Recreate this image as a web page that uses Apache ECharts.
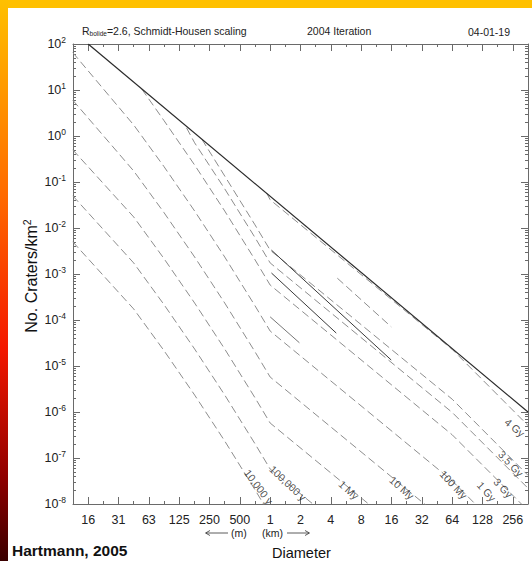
<!DOCTYPE html>
<html><head><meta charset="utf-8">
<script src="https://cdn.jsdelivr.net/npm/echarts@6/dist/echarts.min.js"></script>
<style>html,body{margin:0;padding:0;background:#fff}#c{width:532px;height:561px}</style>
</head><body><div id="c"></div>
<script>
// ---- axes ----
const xMinKm = 0.01105, xMaxKm = 362;
const xTickKm = [0.015625,0.03125,0.0625,0.125,0.25,0.5,1,2,4,8,16,32,64,128,256];
const xTickLabels = ['16','31','63','125','250','500','1','2','4','8','16','32','64','128','256'];
const xMinorKm = [0.0221,0.0442,0.0884,0.177,0.354,0.707,1.414,2.83,5.66,11.3,22.6,45.3,90.5,181];
const yMin = 1e-8, yMax = 1e2;
const yTickVals = [1e-8,1e-7,1e-6,1e-5,1e-4,1e-3,1e-2,1e-1,1,10,100];
const yMinorVals = [];
[1e-8,1e-7,1e-6,1e-5,1e-4,1e-3,1e-2,1e-1,1,10].forEach(function(b){[2,3,4,5,6,7,8,9].forEach(function(m){yMinorVals.push(b*m);});});

// ---- data: [diameter km, craters per km^2] ----
const saturation = [[0.015625,100],[362,1e-6]];
const iso10ky  = [[0.011,5e-3],[0.0442,1.74e-4],[0.088,2.19e-5],[0.178,2.34e-6],[0.354,2.34e-7],[0.707,2.04e-8],[1.0,5.75e-9]];
const iso100ky = [[0.011,5e-2],[0.0442,1.74e-3],[0.088,2.19e-4],[0.178,2.34e-5],[0.354,2.34e-6],[0.707,2.04e-7],[1.0,5.75e-8],[4,4.8e-9]];
const iso1My   = [[0.011,0.5],[0.0442,1.74e-2],[0.088,2.19e-3],[0.178,2.34e-4],[0.354,2.34e-5],[0.707,2.04e-6],[1.0,5.75e-7],[16,3.9e-9]];
const iso10My  = [[0.011,6],[0.0442,0.174],[0.088,2.19e-2],[0.178,2.34e-3],[0.354,2.34e-4],[0.707,2.04e-5],[1.0,5.75e-6],[64,3.2e-9]];
const iso100My = [[0.011,65],[0.0442,1.74],[0.088,0.219],[0.178,2.34e-2],[0.354,2.34e-3],[0.707,2.04e-4],[1.0,5.75e-5],[64,3.2e-8],[362,7e-10]];
const iso1Gy   = [[0.0532,10.5],[0.088,2.19],[0.178,0.234],[0.354,2.34e-2],[0.707,2.04e-3],[1.0,5.75e-4],[64,3.2e-7],[362,7.2e-9]];
const iso3Gy   = [[0.148,1.5],[0.178,0.71],[0.354,7.1e-2],[0.707,6.2e-3],[1.0,1.74e-3],[64,9.8e-7],[362,2.2e-8]];
const iso35Gy  = [[0.21,0.85],[0.354,0.135],[0.707,1.17e-2],[1.0,3.3e-3],[64,1.9e-6],[362,4.2e-8]];
const iso4Gy   = [[0.92,0.058],[1.0,4.1e-2],[64,2.3e-5],[362,5.1e-7]];
const isoNames = ['10,000 y','100,000 y','1 My','10 My','100 My','1 Gy','3 Gy','3.5 Gy','4 Gy'];
const isoData  = [iso10ky,iso100ky,iso1My,iso10My,iso100My,iso1Gy,iso3Gy,iso35Gy,iso4Gy];
// extra segments near 1-16 km
const darkA = [[1.03,3.3e-3],[15.9,1.35e-5]];
const darkB = [[1.03,1.05e-3],[4.53,5.2e-5]];
const greyA = [[4.64,8.1e-4],[15.9,7.1e-5]];
const greyB = [[1.0,1.17e-4],[1.95,3.2e-5]];
const labelPos = [[0.771,2.38e-8],[1.494,2.8e-8],[6.0,2.0e-8],[20.3,2.26e-8],[65.7,2.6e-8],[139.6,1.85e-8],[204,2.2e-8],[243.6,7.4e-8],[268.6,4.6e-7]];
const labelRot = [-53,-43,-42,-41,-47,-48,-47,-47,-40];

const chart = echarts.init(document.getElementById('c'), null, {renderer:'svg'});
const axisCol = '#6a6a6a';
const FF = 'Liberation Sans, Arial, sans-serif';
function xLab(v){
  let best=0, bd=1e9;
  xTickKm.forEach(function(t,i){const d=Math.abs(Math.log(t)-Math.log(v)); if(d<bd){bd=d;best=i;}});
  return bd<0.01 ? xTickLabels[best] : '';
}
function xAx(pos, vals, len, labels, line){
  return {type:'log', logBase:2, min:xMinKm, max:xMaxKm, position:pos, gridIndex:0,
    axisLine:{show:line, onZero:false, lineStyle:{color:axisCol,width:1}},
    axisTick:{show:true, inside:true, length:len, customValues:vals, lineStyle:{color:axisCol}},
    axisLabel:{show:labels, customValues:vals, formatter:xLab, color:'#222', fontSize:12.5, margin:9, fontFamily:FF},
    splitLine:{show:false}, minorTick:{show:false}};
}
function yAx(pos, vals, len, labels, line){
  return {type:'log', logBase:10, min:yMin, max:yMax, position:pos, gridIndex:0,
    axisLine:{show:line, onZero:false, lineStyle:{color:axisCol,width:1}},
    axisTick:{show:true, inside:true, length:len, customValues:vals, lineStyle:{color:axisCol}},
    axisLabel:{show:labels, customValues:vals, margin:7, color:'#222', fontSize:12.5, fontFamily:FF,
      formatter:function(v){return '10{s|'+Math.round(Math.log10(v))+'}';},
      rich:{s:{fontSize:8.5, verticalAlign:'top', padding:[0,0,8,0], color:'#222', fontFamily:FF}}},
    splitLine:{show:false}, minorTick:{show:false}};
}
const series = [];
series.push({type:'line', name:'saturation', data:saturation, symbol:'none', silent:true,
  lineStyle:{color:'#2a2a2a', width:1.2}, z:5});
isoData.forEach(function(d,i){
  series.push({type:'line', name:isoNames[i], data:d, symbol:'none', silent:true,
    lineStyle:{color:'#8d8d8d', width:1, type:[8,4]}, z:3});
});
series.push({type:'line', name:'darkA', data:darkA, symbol:'none', silent:true, lineStyle:{color:'#3a3a3a', width:1}, z:4});
series.push({type:'line', name:'darkB', data:darkB, symbol:'none', silent:true, lineStyle:{color:'#3a3a3a', width:1}, z:4});
series.push({type:'line', name:'greyA', data:greyA, symbol:'none', silent:true, lineStyle:{color:'#8d8d8d', width:1, type:[8,4]}, z:3});
series.push({type:'line', name:'greyB', data:greyB, symbol:'none', silent:true, lineStyle:{color:'#777', width:1}, z:3});
series.push({type:'scatter', name:'labels', symbolSize:0, silent:true,
  data:labelPos.map(function(p,i){return {value:p, name:isoNames[i],
    label:{show:true, position:'inside', formatter:isoNames[i], rotate:labelRot[i], color:'#222', fontSize:10.5, fontFamily:FF}};}), z:6});

chart.setOption({
  animation:false,
  backgroundColor:'#fff',
  grid:{left:73, top:44, width:455, height:460, containLabel:false},
  xAxis:[xAx('bottom',xTickKm,7,true,true), xAx('bottom',xMinorKm,3,false,false),
         xAx('top',xTickKm,7,false,true), xAx('top',xMinorKm,3,false,false)],
  yAxis:[yAx('left',yTickVals,7,true,true), yAx('left',yMinorVals,3,false,false),
         yAx('right',yTickVals,7,false,true), yAx('right',yMinorVals,3,false,false)],
  series:series,
  graphic:[
    {type:'rect', left:0, top:0, shape:{width:532, height:8}, style:{fill:'#FFC000'}, silent:true},
    {type:'rect', left:0, top:0, shape:{width:8, height:561}, silent:true,
      style:{fill:new echarts.graphic.LinearGradient(0,0,0,1,[{offset:0,color:'#FFC000'},{offset:0.35,color:'#FF6A00'},{offset:0.62,color:'#F41800'},{offset:0.85,color:'#900000'},{offset:1,color:'#3a0000'}])}},
    {type:'text', left:82, top:25, silent:true, style:{text:'R{b|bolide}=2.6, Schmidt-Housen scaling', fill:'#222', fontSize:10.5, fontFamily:FF,
      rich:{b:{fontSize:6.5, verticalAlign:'bottom', padding:[6,0,0,0], fill:'#222'}}}},
    {type:'text', left:307, top:25, silent:true, style:{text:'2004 Iteration', fill:'#222', fontSize:10.5, fontFamily:FF}},
    {type:'text', left:468, top:26, silent:true, style:{text:'04-01-19', fill:'#222', fontSize:10.5, fontFamily:FF}},
    {type:'text', x:31, y:276, rotation:Math.PI/2, silent:true, style:{text:'No. Craters/km{s|2}', fill:'#111', fontSize:16, align:'center', verticalAlign:'middle', fontFamily:FF,
      rich:{s:{fontSize:10.5, verticalAlign:'top', padding:[0,0,9,0], fill:'#111'}}}},
    {type:'text', left:12, top:542, silent:true, style:{text:'Hartmann, 2005', fill:'#111', fontSize:15.5, fontWeight:'bold', fontFamily:FF}},
    {type:'text', left:272, top:545, silent:true, style:{text:'Diameter', fill:'#111', fontSize:14.5, fontFamily:FF}},
    {type:'text', left:231, top:527, silent:true, style:{text:'(m)', fill:'#222', fontSize:10.5, fontFamily:FF}},
    {type:'text', left:262, top:527, silent:true, style:{text:'(km)', fill:'#222', fontSize:10.5, fontFamily:FF}},
    {type:'line', silent:true, shape:{x1:206,y1:533,x2:228,y2:533}, style:{stroke:'#333', lineWidth:0.8}},
    {type:'polyline', silent:true, shape:{points:[[210,530.5],[205.5,533],[210,535.5]]}, style:{stroke:'#333', fill:null, lineWidth:0.8}},
    {type:'line', silent:true, shape:{x1:287,y1:533,x2:309,y2:533}, style:{stroke:'#333', lineWidth:0.8}},
    {type:'polyline', silent:true, shape:{points:[[305,530.5],[309.5,533],[305,535.5]]}, style:{stroke:'#333', fill:null, lineWidth:0.8}}
  ]
});
</script></body></html>
